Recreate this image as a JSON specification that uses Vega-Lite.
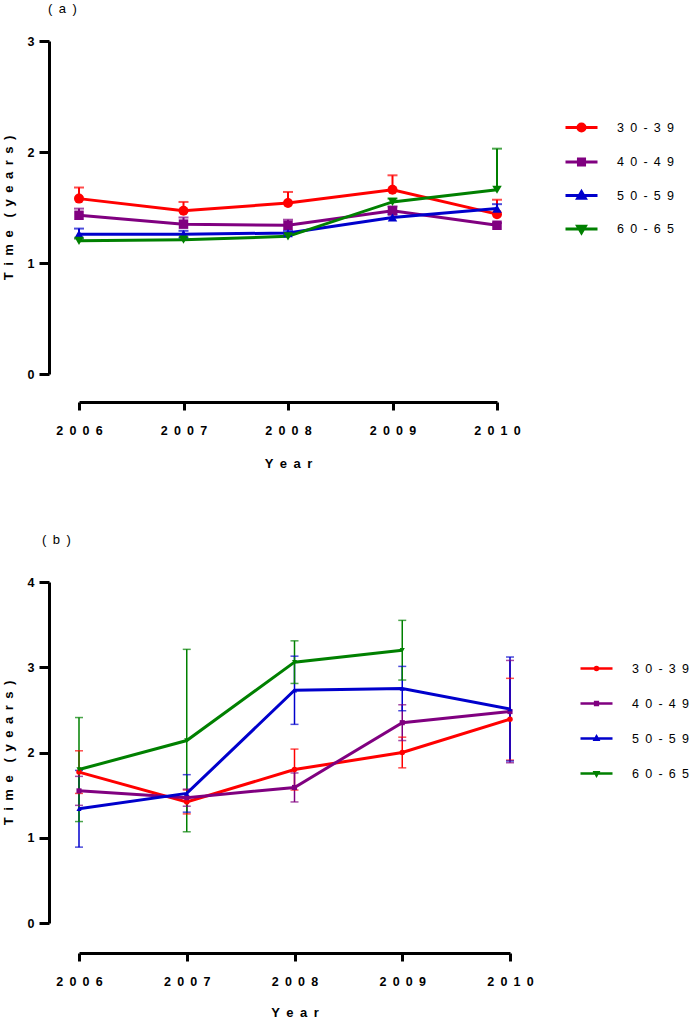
{
  "$schema": "https://vega.github.io/schema/vega-lite/v6.json",
  "background": "white",
  "padding": {"left": 2, "top": 3, "right": 0, "bottom": 0},
  "spacing": 63,
  "config": {
    "font": "Liberation Sans",
    "view": {"stroke": null},
    "axis": {
      "grid": false,
      "labelFlush": false,
      "domainColor": "black",
      "domainWidth": 3,
      "tickColor": "black",
      "tickWidth": 3,
      "labelFont": "Liberation Sans",
      "labelFontWeight": "bold",
      "labelFontSize": 12.5,
      "labelColor": "black",
      "titleFont": "Liberation Sans",
      "titleFontWeight": "bold",
      "titleFontSize": 13,
      "titleColor": "black"
    },
    "legend": {
      "labelFont": "Liberation Sans",
      "labelFontSize": 12.5,
      "labelColor": "black",
      "symbolSize": 1024,
      "labelOffset": 18,
      "padding": 0
    },
    "title": {
      "font": "Liberation Sans",
      "fontSize": 13,
      "fontWeight": "normal",
      "color": "black",
      "anchor": "start",
      "frame": "group"
    }
  },
  "resolve": {
    "scale": {"x": "independent", "y": "independent", "color": "independent"},
    "legend": {"color": "independent"}
  },
  "datasets": {
    "a": [
      {"year": 2006, "group": "30-39", "mean": 1.58, "hi": 1.68},
      {"year": 2007, "group": "30-39", "mean": 1.47, "hi": 1.55},
      {"year": 2008, "group": "30-39", "mean": 1.54, "hi": 1.64},
      {"year": 2009, "group": "30-39", "mean": 1.66, "hi": 1.79},
      {"year": 2010, "group": "30-39", "mean": 1.44, "hi": 1.57},
      {"year": 2006, "group": "40-49", "mean": 1.43, "hi": 1.49},
      {"year": 2007, "group": "40-49", "mean": 1.35, "hi": 1.41},
      {"year": 2008, "group": "40-49", "mean": 1.34, "hi": 1.39},
      {"year": 2009, "group": "40-49", "mean": 1.47, "hi": 1.51},
      {"year": 2010, "group": "40-49", "mean": 1.34, "hi": 1.36},
      {"year": 2006, "group": "50-59", "mean": 1.26, "hi": 1.31},
      {"year": 2007, "group": "50-59", "mean": 1.26, "hi": 1.29},
      {"year": 2008, "group": "50-59", "mean": 1.27, "hi": 1.29},
      {"year": 2009, "group": "50-59", "mean": 1.41, "hi": 1.44},
      {"year": 2010, "group": "50-59", "mean": 1.49, "hi": 1.53},
      {"year": 2006, "group": "60-65", "mean": 1.2, "hi": 1.22},
      {"year": 2007, "group": "60-65", "mean": 1.21, "hi": 1.23},
      {"year": 2008, "group": "60-65", "mean": 1.24, "hi": 1.26},
      {"year": 2009, "group": "60-65", "mean": 1.55, "hi": 1.58},
      {"year": 2010, "group": "60-65", "mean": 1.66, "hi": 2.03}
    ],
    "b": [
      {"year": 2006, "group": "30-39", "mean": 1.77, "lo": 1.52, "hi": 2.02},
      {"year": 2007, "group": "30-39", "mean": 1.42, "lo": 1.28, "hi": 1.56},
      {"year": 2008, "group": "30-39", "mean": 1.8, "lo": 1.56, "hi": 2.04},
      {"year": 2009, "group": "30-39", "mean": 2.0, "lo": 1.82, "hi": 2.18},
      {"year": 2010, "group": "30-39", "mean": 2.39, "lo": 1.91, "hi": 2.87},
      {"year": 2006, "group": "40-49", "mean": 1.55, "lo": 1.38, "hi": 1.72},
      {"year": 2007, "group": "40-49", "mean": 1.47, "lo": 1.37, "hi": 1.57},
      {"year": 2008, "group": "40-49", "mean": 1.59, "lo": 1.42, "hi": 1.76},
      {"year": 2009, "group": "40-49", "mean": 2.35, "lo": 2.14, "hi": 2.56},
      {"year": 2010, "group": "40-49", "mean": 2.48, "lo": 1.88, "hi": 3.08},
      {"year": 2006, "group": "50-59", "mean": 1.34, "lo": 0.89, "hi": 1.79},
      {"year": 2007, "group": "50-59", "mean": 1.52, "lo": 1.3, "hi": 1.74},
      {"year": 2008, "group": "50-59", "mean": 2.73, "lo": 2.33, "hi": 3.13},
      {"year": 2009, "group": "50-59", "mean": 2.75, "lo": 2.49, "hi": 3.01},
      {"year": 2010, "group": "50-59", "mean": 2.51, "lo": 1.9, "hi": 3.12},
      {"year": 2006, "group": "60-65", "mean": 1.8, "lo": 1.19, "hi": 2.41},
      {"year": 2007, "group": "60-65", "mean": 2.14, "lo": 1.07, "hi": 3.21},
      {"year": 2008, "group": "60-65", "mean": 3.06, "lo": 2.81, "hi": 3.31},
      {"year": 2009, "group": "60-65", "mean": 3.2, "lo": 2.85, "hi": 3.55}
    ]
  },
  "vconcat": [
    {
      "width": 418,
      "height": 333,
      "title": {"text": "(\u2002a\u2002)", "dx": -31, "offset": 19},
      "data": {"name": "a"},
      "encoding": {
        "x": {
          "field": "year", "type": "quantitative",
          "scale": {"domain": [2006, 2010], "nice": false, "zero": false},
          "axis": {
            "values": [2006, 2007, 2008, 2009, 2010],
            "format": "d",
            "labelExpr": "join(split(datum.label, ''), '\u2002')",
            "offset": 28, "tickSize": 8, "labelPadding": 14,
            "title": "Y\u2002e\u2002a\u2002r", "titlePadding": 21
          }
        },
        "y": {
          "field": "mean", "type": "quantitative",
          "scale": {"domain": [0, 3], "nice": false},
          "axis": {
            "values": [0, 0.5, 1, 1.5, 2, 2.5, 3],
            "format": "d",
            "labelExpr": "datum.value % 1 === 0 ? datum.label : ''",
            "offset": 30,
            "tickSize": {"condition": {"test": "datum.value % 1 !== 0", "value": 6}, "value": 10},
            "labelPadding": 5,
            "title": "T\u2002i\u2002m\u2002e\u2002\u2002(\u2002y\u2002e\u2002a\u2002r\u2002s\u2002)",
            "titlePadding": 12
          }
        },
        "color": {
          "field": "group", "type": "nominal",
          "scale": {"domain": ["30-39", "40-49", "50-59", "60-65"], "range": ["#ff0000", "#800080", "#0000cc", "#008000"]},
          "legend": {
            "title": null,
            "orient": "none",
            "legendX": 485,
            "legendY": 69,
            "rowPadding": 6.5,
            "labelExpr": "join(split(datum.label, ''), '\u2002')",
            "symbolType": {"expr": "datum.value === '30-39' ? 'M-1,0H1M0.22,0A0.22,0.22,0,1,1,-0.22,0A0.22,0.22,0,1,1,0.22,0Z' : datum.value === '40-49' ? 'M-1,0H1M-0.19,-0.19H0.19V0.19H-0.19Z' : datum.value === '50-59' ? 'M-1,0H1M0,-0.24L0.24,0.17H-0.24Z' : 'M-1,0H1M0,0.24L0.24,-0.17H-0.24Z'"},
            "encode": {
              "symbols": {
                "update": {
                  "shape": {"signal": "datum.value === '30-39' ? 'M-1,0H1M0.22,0A0.22,0.22,0,1,1,-0.22,0A0.22,0.22,0,1,1,0.22,0Z' : datum.value === '40-49' ? 'M-1,0H1M-0.19,-0.19H0.19V0.19H-0.19Z' : datum.value === '50-59' ? 'M-1,0H1M0,-0.24L0.24,0.17H-0.24Z' : 'M-1,0H1M0,0.24L0.24,-0.17H-0.24Z'"},
                  "fill": {"signal": "datum.value === '30-39' ? '#ff0000' : datum.value === '40-49' ? '#800080' : datum.value === '50-59' ? '#0000cc' : '#008000'"},
                  "stroke": {"signal": "datum.value === '30-39' ? '#ff0000' : datum.value === '40-49' ? '#800080' : datum.value === '50-59' ? '#0000cc' : '#008000'"},
                  "strokeWidth": {"value": 3},
                  "opacity": {"value": 1}
                }
              }
            }
          }
        }
      },
      "layer": [
        {
          "mark": {"type": "rule", "strokeWidth": 2},
          "encoding": {"y2": {"field": "hi"}}
        },
        {
          "mark": {"type": "tick", "orient": "horizontal", "size": 10, "thickness": 2},
          "encoding": {"y": {"field": "hi", "type": "quantitative", "title": "T\u2002i\u2002m\u2002e\u2002\u2002(\u2002y\u2002e\u2002a\u2002r\u2002s\u2002)"}}
        },
        {"mark": {"type": "line", "strokeWidth": 3}},
        {"transform": [{"filter": "datum.group === '30-39'"}], "mark": {"type": "point", "shape": "circle", "filled": true, "size": 100, "opacity": 1}},
        {"transform": [{"filter": "datum.group === '40-49'"}], "mark": {"type": "point", "shape": "square", "filled": true, "size": 90, "opacity": 1}},
        {"transform": [{"filter": "datum.group === '50-59'"}], "mark": {"type": "point", "shape": "triangle-up", "filled": true, "size": 90, "opacity": 1}},
        {"transform": [{"filter": "datum.group === '60-65'"}], "mark": {"type": "point", "shape": "triangle-down", "filled": true, "size": 90, "opacity": 1}}
      ]
    },
    {
      "width": 431,
      "height": 341,
      "title": {"text": "(\u2002b\u2002)", "dx": -37, "offset": 29},
      "data": {"name": "b"},
      "encoding": {
        "x": {
          "field": "year", "type": "quantitative",
          "scale": {"domain": [2006, 2010], "nice": false, "zero": false},
          "axis": {
            "values": [2006, 2007, 2008, 2009, 2010],
            "format": "d",
            "labelExpr": "join(split(datum.label, ''), '\u2002')",
            "offset": 30, "tickSize": 8, "labelPadding": 14,
            "title": "Y\u2002e\u2002a\u2002r", "titlePadding": 19
          }
        },
        "y": {
          "field": "mean", "type": "quantitative",
          "scale": {"domain": [0, 4], "nice": false},
          "axis": {
            "values": [0, 1, 2, 3, 4],
            "format": "d",
            "offset": 30,
            "tickSize": 10,
            "labelPadding": 5,
            "title": "T\u2002i\u2002m\u2002e\u2002\u2002(\u2002y\u2002e\u2002a\u2002r\u2002s\u2002)",
            "titlePadding": 12
          }
        },
        "color": {
          "field": "group", "type": "nominal",
          "scale": {"domain": ["30-39", "40-49", "50-59", "60-65"], "range": ["#ff0000", "#800080", "#0000cc", "#008000"]},
          "legend": {
            "title": null,
            "orient": "none",
            "legendX": 500,
            "legendY": 69,
            "rowPadding": 10,
            "labelExpr": "join(split(datum.label, ''), '\u2002')",
            "symbolType": {"expr": "datum.value === '30-39' ? 'M-1,0H1M0.09,0A0.09,0.09,0,1,1,-0.09,0A0.09,0.09,0,1,1,0.09,0Z' : datum.value === '40-49' ? 'M-1,0H1M-0.08,-0.08H0.08V0.08H-0.08Z' : datum.value === '50-59' ? 'M-1,0H1M0,-0.11L0.1,0.07H-0.1Z' : 'M-1,0H1M0,0.11L0.1,-0.07H-0.1Z'"},
            "encode": {
              "symbols": {
                "update": {
                  "shape": {"signal": "datum.value === '30-39' ? 'M-1,0H1M0.09,0A0.09,0.09,0,1,1,-0.09,0A0.09,0.09,0,1,1,0.09,0Z' : datum.value === '40-49' ? 'M-1,0H1M-0.08,-0.08H0.08V0.08H-0.08Z' : datum.value === '50-59' ? 'M-1,0H1M0,-0.11L0.1,0.07H-0.1Z' : 'M-1,0H1M0,0.11L0.1,-0.07H-0.1Z'"},
                  "fill": {"signal": "datum.value === '30-39' ? '#ff0000' : datum.value === '40-49' ? '#800080' : datum.value === '50-59' ? '#0000cc' : '#008000'"},
                  "stroke": {"signal": "datum.value === '30-39' ? '#ff0000' : datum.value === '40-49' ? '#800080' : datum.value === '50-59' ? '#0000cc' : '#008000'"},
                  "strokeWidth": {"value": 2.7},
                  "opacity": {"value": 1}
                }
              }
            }
          }
        }
      },
      "layer": [
        {
          "mark": {"type": "rule", "strokeWidth": 1.5},
          "encoding": {"y": {"field": "lo", "type": "quantitative", "title": "T\u2002i\u2002m\u2002e\u2002\u2002(\u2002y\u2002e\u2002a\u2002r\u2002s\u2002)"}, "y2": {"field": "hi"}}
        },
        {
          "mark": {"type": "tick", "orient": "horizontal", "size": 8, "thickness": 1.5},
          "encoding": {"y": {"field": "hi", "type": "quantitative", "title": "T\u2002i\u2002m\u2002e\u2002\u2002(\u2002y\u2002e\u2002a\u2002r\u2002s\u2002)"}}
        },
        {
          "mark": {"type": "tick", "orient": "horizontal", "size": 8, "thickness": 1.5},
          "encoding": {"y": {"field": "lo", "type": "quantitative", "title": "T\u2002i\u2002m\u2002e\u2002\u2002(\u2002y\u2002e\u2002a\u2002r\u2002s\u2002)"}}
        },
        {"mark": {"type": "line", "strokeWidth": 3}},
        {"transform": [{"filter": "datum.group === '30-39'"}], "mark": {"type": "point", "shape": "circle", "filled": true, "size": 30, "opacity": 1}},
        {"transform": [{"filter": "datum.group === '40-49'"}], "mark": {"type": "point", "shape": "square", "filled": true, "size": 26, "opacity": 1}},
        {"transform": [{"filter": "datum.group === '50-59'"}], "mark": {"type": "point", "shape": "triangle-up", "filled": true, "size": 26, "opacity": 1}},
        {"transform": [{"filter": "datum.group === '60-65'"}], "mark": {"type": "point", "shape": "triangle-down", "filled": true, "size": 26, "opacity": 1}}
      ]
    }
  ]
}
